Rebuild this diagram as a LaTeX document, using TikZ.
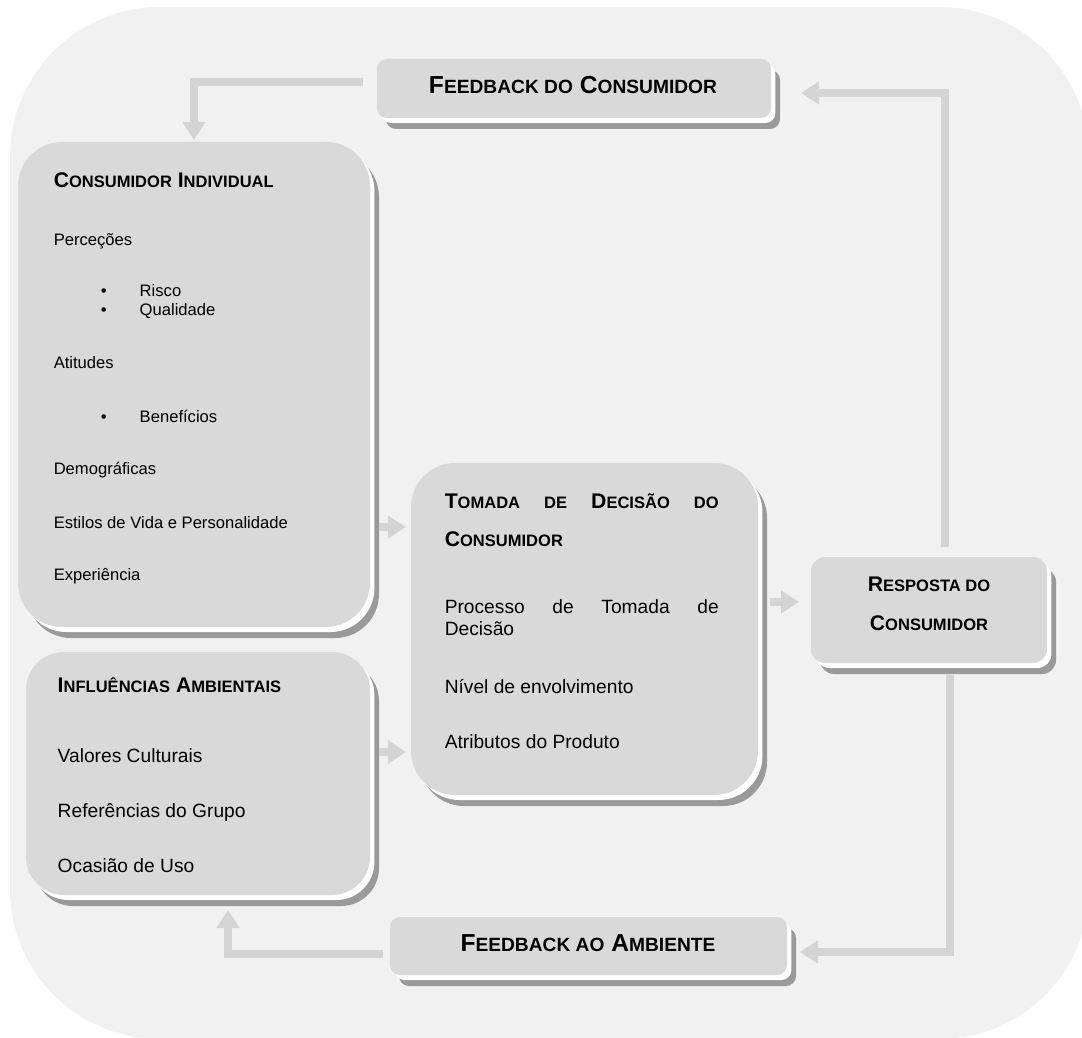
\documentclass[tikz,border=0pt]{standalone}
\usepackage{fontspec}
\setmainfont{Liberation Sans}
\usepackage{xfp}
\usepackage{tikz}
\usetikzlibrary{arrows.meta}
\usetikzlibrary{calc, shadows}
\definecolor{bggray}{HTML}{F1F1F1}
\definecolor{boxgray}{HTML}{D9D9D9}
\definecolor{shadowgray}{HTML}{9A9A9A}
\definecolor{arrowgray}{HTML}{D4D4D4}
\makeatletter
\newcommand{\lc}[1]{{\fontsize{\fpeval{0.78*\f@size}}{\f@baselineskip}\selectfont #1}}
\makeatother
\tikzset{every picture/.style={line width=0.75pt}}
\tikzset{
  box/.style={fill=boxgray, inner sep=0pt, outer sep=0pt,
    general shadow={fill=shadowgray, shadow xshift=4.5pt, shadow yshift=-5.5pt},
    general shadow={fill=white, shadow xshift=2.2pt, shadow yshift=-2.5pt}},
  flow/.style={draw=arrowgray, line width=4.2pt, -{Triangle[width=11pt,length=9pt]}},
  head/.style={font=\bfseries\fontsize{10.6}{12}\selectfont, inner sep=0pt},
  fbhead/.style={font=\bfseries\fontsize{12.3}{14}\selectfont, inner sep=0pt, anchor=base},
  txt/.style={font=\fontsize{9.6}{11}\selectfont, inner sep=0pt, anchor=base west},
  smalltxt/.style={font=\fontsize{8.3}{10}\selectfont, inner sep=0pt, anchor=base west},
}

\begin{document}
\begin{tikzpicture}[x=0.5pt, y=-0.5pt]
\useasboundingbox (0,0) rectangle (1082,1038);
\fill[white] (0,0) rectangle (1082,1038);
\fill[bggray, rounded corners=75pt] (10,7) rectangle (1089,1039);

\node[box, rounded corners=5pt, minimum width=197pt, minimum height=29.5pt] (fbc) at (574,88.5) {};
\node[box, rounded corners=22pt, minimum width=176pt, minimum height=242.5pt] (ci) at (194,384.5) {};
\node[box, rounded corners=19pt, minimum width=172pt, minimum height=121.5pt] (inf) at (198,773.5) {};
\node[box, rounded corners=22pt, minimum width=173.5pt, minimum height=166pt] (td) at (584.5,629) {};
\node[box, rounded corners=7pt, minimum width=118pt, minimum height=53pt] (resp) at (929,610) {};
\node[box, rounded corners=5pt, minimum width=198.5pt, minimum height=29pt] (fba) at (588.5,946) {};

\draw[flow] ([xshift=-7pt,yshift=3.25pt]fbc.west) -| ([yshift=1pt]ci.north);
\draw[flow] ([xshift=8pt,yshift=5pt]resp.north) |- ([xshift=15pt,yshift=-2.25pt]fbc.east);
\draw[flow] ([xshift=10.5pt,yshift=-6pt]resp.south) |- ([xshift=6.5pt,yshift=-3pt]fba.east);
\draw[flow] ([xshift=-3.5pt,yshift=-4pt]fba.west) -| ([xshift=15pt,yshift=-7.5pt]inf.south);
\draw[flow] ($(ci.east |- 0,527)+(9,0)$) -- ($(td.west |- 0,527)+(-5,0)$);
\draw[flow] ($(inf.east |- 0,752)+(9,0)$) -- ($(td.west |- 0,752)+(-5,0)$);
\draw[flow] ($(td.east |- 0,602)+(12,0)$) -- ($(resp.west |- 0,602)+(-12,0)$);

\node[fbhead] (fbc-t) at (573,94) {F\lc{EEDBACK DO} C\lc{ONSUMIDOR}};
\node[fbhead] (fba-t) at (588,951) {F\lc{EEDBACK AO} A\lc{MBIENTE}};

\node[head, anchor=base west] (ci-t) at (53,188) {C\lc{ONSUMIDOR} I\lc{NDIVIDUAL}};
\node[smalltxt] (ci-1) at (53,245) {Perceções};
\node[smalltxt] (ci-2) at (100,296) {\makebox[19.5pt][l]{\textbullet}Risco};
\node[smalltxt] (ci-3) at (100,315) {\makebox[19.5pt][l]{\textbullet}Qualidade};
\node[smalltxt] (ci-4) at (53,368) {Atitudes};
\node[smalltxt] (ci-5) at (100,422) {\makebox[19.5pt][l]{\textbullet}Benefícios};
\node[smalltxt] (ci-6) at (53,474) {Demográficas};
\node[smalltxt] (ci-7) at (53,528) {Estilos de Vida e Personalidade};
\node[smalltxt] (ci-8) at (53,580) {Experiência};

\node[head, anchor=base west] (inf-t) at (57,692) {I\lc{NFLUÊNCIAS} A\lc{MBIENTAIS}};
\node[txt] (inf-1) at (57,762) {Valores Culturais};
\node[txt] (inf-2) at (57,817) {Referências do Grupo};
\node[txt] (inf-3) at (57,872) {Ocasião de Uso};

\node[head, anchor=base west] (td-t1) at (444,508) {\makebox[137pt][s]{T\lc{OMADA} \lc{DE} D\lc{ECISÃO} \lc{DO}}};
\node[head, anchor=base west] (td-t2) at (444,546) {C\lc{ONSUMIDOR}};
\node[txt] (td-1) at (444,613) {\makebox[137pt][s]{Processo de Tomada de}};
\node[txt] (td-2) at (444,635) {Decisão};
\node[txt] (td-3) at (444,693) {Nível de envolvimento};
\node[txt] (td-4) at (444,748) {Atributos do Produto};

\node[head, anchor=base] (resp-t1) at (929,591) {R\lc{ESPOSTA DO}};
\node[head, anchor=base] (resp-t2) at (929,630) {C\lc{ONSUMIDOR}};
\end{tikzpicture}
\end{document}
